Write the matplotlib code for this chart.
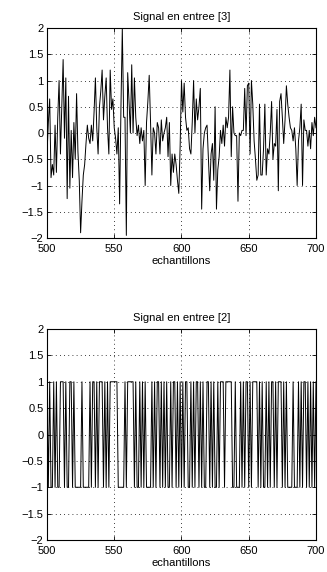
import numpy as np
import matplotlib
matplotlib.use('Agg')
import matplotlib.pyplot as plt

plt.rcParams['font.family'] = ['Liberation Sans', 'DejaVu Sans']
plt.rcParams['font.size'] = 8

# echantillons 500..700
samples = np.arange(500, 701)

# signal en entree [3] (bruite)
signal3 = [
    -0.4, 0.2, 0.65, -0.85, -0.6, -0.8, 0.15, -0.75, 0.3, 1.0,
    -0.4, 0.5, 1.4, -0.1, 1.05, -1.25, 0.7, -1.05, 0.05, -0.85,
    0.2, -0.5, 0.75, -0.35, -0.9, -1.9, -1.3, -0.8, -0.6, -0.2,
    0.15, -0.1, -0.2, 0.15, -0.15, 0.4, 1.05, 0.1, -0.4, 0.5,
    0.8, 1.2, 0.25, 0.7, 1.05, 0.1, -0.4, 1.2, 0.45, 0.65,
    0.1, -0.1, -0.4, 0.1, -1.35, 0.5, 2.0, 0.3, 0.3, -1.95,
    1.15, 0.6, 0.0, 1.3, 0.0, 1.05, 0.3, -0.05, 0.15, -0.2,
    0.1, -0.15, 0.05, -1.0, 0.2, 0.6, 1.1, 0.2, -0.8, 0.1,
    0.0, -0.4, 0.2, 0.1, -0.4, 0.25, -0.15, 0.0, 0.1, 0.3,
    -0.45, 0.2, -1.0, -0.4, -0.75, -0.4, -0.6, -0.9, -1.15, -0.25,
    1.0, 0.4, 0.95, 0.3, 0.05, 0.1, -0.3, -0.4, 0.2, 1.0,
    0.0, 0.65, 0.25, 0.5, 0.85, -1.45, -0.3, 0.0, 0.1, 0.15,
    -0.5, -1.1, -0.4, -0.2, -0.9, 0.5, -1.45, -0.7, -0.45, 0.05,
    -0.2, 0.15, -0.25, 0.3, 0.1, 0.3, 1.2, -0.45, 0.5, 0.0,
    -0.05, -0.05, -1.3, 0.0, -0.05, 0.05, 0.05, 0.85, -0.05, 0.9,
    0.95, -0.4, 1.0, 0.55, -0.15, -0.5, -0.9, -0.8, 0.55, -0.8,
    -0.8, -0.3, 0.55, -0.8, -0.3, -0.4, 0.0, 0.6, -0.5, -0.2,
    -0.25, 0.45, -1.1, 0.6, 0.75, 0.3, -0.2, 0.25, 0.9, 0.55,
    0.3, 0.1, 0.05, -0.15, 0.1, -0.3, -1.0, -0.15, 0.1, 0.55,
    -1.0, 0.25, 0.05, 0.05, -0.25, 0.05, -0.3, 0.2, -0.05, 0.3,
    0.1,
]

# signal en entree [2] (binaire)
signal2 = [
    1, -1, 1, -1, -1, 1, -1, 1, -1, -1,
    1, 1, 1, -1, 1, -1, -1, 1, 1, -1,
    1, -1, -1, -1, -1, -1, 1, -1, -1, -1,
    -1, -1, 1, -1, 1, 1, -1, 1, -1, 1,
    1, 1, -1, 1, -1, 1, -1, 1, 1, 1,
    1, 1, 1, -1, -1, -1, -1, -1, 1, -1,
    1, 1, 1, 1, 1, -1, 1, -1, -1, 1,
    -1, 1, -1, 1, -1, -1, -1, -1, 1, -1,
    1, -1, 1, 1, -1, 1, -1, 1, -1, 1,
    -1, -1, 1, -1, 1, 1, -1, 1, -1, 1,
    -1, 1, -1, 1, 1, -1, -1, 1, -1, 1,
    -1, 1, 1, -1, 1, -1, 1, -1, -1, 1,
    1, -1, 1, -1, 1, -1, -1, 1, -1, 1,
    1, 1, -1, 1, 1, 1, 1, 1, -1, -1,
    1, -1, -1, -1, 1, -1, 1, -1, 1, 1,
    -1, 1, -1, 1, 1, 1, 1, -1, 1, -1,
    1, -1, -1, 1, -1, 1, -1, 1, 1, -1,
    1, -1, 1, 1, 1, -1, 1, -1, 1, -1,
    -1, -1, -1, 1, -1, -1, -1, 1, -1, 1,
    -1, 1, 1, -1, 1, -1, 1, -1, 1, -1,
    1,
]

titles = ['Signal en entree [3]', 'Signal en entree [2]']
xticks = [500, 550, 600, 650, 700]
yticks = [-2, -1.5, -1, -0.5, 0, 0.5, 1, 1.5, 2]
yticklabels = ['\u22122', '\u22121.5', '\u22121', '\u22120.5', '0', '0.5', '1', '1.5', '2']

fig = plt.figure(figsize=(3.27, 5.72), dpi=100)
ax1 = fig.add_axes([0.1437, 0.5839, 0.8226, 0.3671])
ax2 = fig.add_axes([0.1437, 0.0559, 0.8226, 0.3689])

for ax, data, title in zip([ax1, ax2], [signal3, signal2], titles):
    ax.plot(samples, data, color='black', linewidth=0.7)
    ax.set_xlim(500, 700)
    ax.set_ylim(-2, 2)
    ax.set_xticks(xticks)
    ax.set_yticks(yticks)
    ax.set_yticklabels(yticklabels)
    ax.grid(True, color='black', linestyle=(0, (1, 4)), linewidth=0.6)
    ax.tick_params(direction='in', length=3, width=0.6, top=True, right=True, labelsize=8)
    ax.tick_params(axis='x', pad=4.5)
    ax.tick_params(axis='y', pad=2.5)
    for sp in ax.spines.values():
        sp.set_linewidth(0.8)
    ax.set_title(title, fontsize=8, pad=6)
    ax.set_xlabel('echantillons', fontsize=8, labelpad=1)

fig.savefig('out.png', dpi=100)
